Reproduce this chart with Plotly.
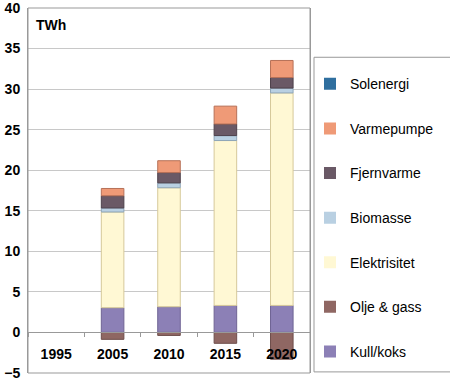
import plotly.graph_objects as go

years = ["1995", "2005", "2010", "2015", "2020"]
kull_koks = [0, 3.05, 3.17, 3.33, 3.33]
olje_gass = [0, -0.85, -0.37, -1.34, -3.3]
elektrisitet = [0, 11.8, 14.67, 20.33, 26.2]
biomasse = [0, 0.5, 0.6, 0.61, 0.6]
fjernvarme = [0, 1.5, 1.27, 1.43, 1.3]
varmepumpe = [0, 0.9, 1.46, 2.2, 2.1]
solenergi = [0, 0, 0, 0, 0]

series = [
    ("Kull/koks", kull_koks, "#8c80b6", "#6f6494", 7),
    ("Olje & gass", olje_gass, "#8f6763", "#6e4e4b", 6),
    ("Elektrisitet", elektrisitet, "#fff8d4", "#d6c99a", 5),
    ("Biomasse", biomasse, "#b9d0e2", "#8fa6b8", 4),
    ("Fjernvarme", fjernvarme, "#6a5966", "#4e414b", 3),
    ("Varmepumpe", varmepumpe, "#ef9a77", "#b77158", 2),
    ("Solenergi", solenergi, "#2f6f9f", "#245579", 1),
]

fig = go.Figure()
for name, vals, col, lcol, rank in series:
    widths = [1 if v != 0 else 0 for v in vals]
    fig.add_trace(go.Bar(
        x=years, y=vals, name=name, legendgroup=name, legendrank=rank,
        marker=dict(color=col, line=dict(color=lcol, width=widths)),
    ))

font = "Liberation Sans, Arial, sans-serif"
fig.update_layout(
    width=450, height=381,
    margin=dict(l=28, r=140, t=8, b=8),
    barmode="relative",
    bargap=0.6,
    plot_bgcolor="white",
    paper_bgcolor="white",
    showlegend=True,
    legend=dict(
        x=1.0, y=0.835, xanchor="left", yanchor="top",
        traceorder="grouped",
        tracegroupgap=23.4,
        borderwidth=0,
        font=dict(family=font, size=14, color="black"),
        bgcolor="rgba(0,0,0,0)",
    ),
    xaxis=dict(
        type="category",
        anchor="free", position=5 / 45,
        automargin=False,
        showline=True, linecolor="#999999", linewidth=1,
        ticks="outside", tickson="boundaries", ticklen=4, tickcolor="#999999",
        tickfont=dict(family=font, size=14, color="black", weight="bold"),
        showgrid=False,
        ticklabelstandoff=9,
        ticklabeloverflow="allow",
    ),
    yaxis=dict(
        range=[-5, 40], dtick=5,
        automargin=False,
        showline=True, linecolor="#999999", linewidth=1, mirror=True,
        gridcolor="#c8c8c8", gridwidth=1,
        zeroline=False,
        ticks="", ticklabelstandoff=4,
        ticklabeloverflow="allow",
        tickfont=dict(family=font, size=14, color="black", weight="bold"),
    ),
    annotations=[dict(
        text="<b>TWh</b>", x=0.02, y=0.953, xref="paper", yref="paper",
        xanchor="left", yanchor="middle", showarrow=False,
        font=dict(family=font, size=14, color="black"),
    )],
)
fig.add_shape(type="rect", xref="paper", yref="paper", x0=0, y0=0, x1=1, y1=1,
              line=dict(color="#999999", width=1), layer="above")
# legend frame
fig.add_shape(type="rect", xref="paper", yref="paper",
              x0=1.0142, y0=0.003, x1=1.5, y1=0.865,
              line=dict(color="#999999", width=1), layer="below")
fig.write_html("out.html", config={"displayModeBar": False},
               post_script="document.body.style.margin='0';")
